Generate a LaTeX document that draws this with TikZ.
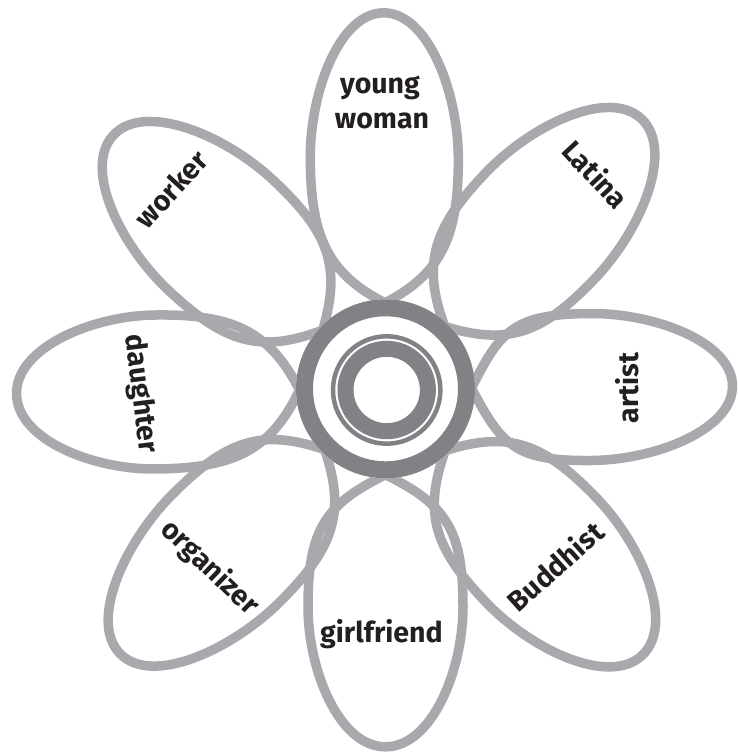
\documentclass[tikz,border=0pt]{standalone}
\usepackage{fontspec}
\setmainfont{Fira Sans}
\definecolor{petalgray}{HTML}{A7A9AC}
\definecolor{ringgray}{HTML}{808285}
\definecolor{ink}{HTML}{231F20}
% #1 angle, #2 tip radius, #3 end radius, #4 half width, #5 widest radius
\newcommand\flowerpetal[5]{%
  \draw[petalline, rotate=#1]
    (#2,0) .. controls ({#2+30},{0.8*#4}) and ({#5-75},{#4}) .. (#5,#4)
           .. controls ({#5+0.45*(#3-#5)},{#4}) and (#3,{0.6*#4}) .. (#3,0)
           .. controls (#3,{-0.6*#4}) and ({#5+0.45*(#3-#5)},{-#4}) .. (#5,-#4)
           .. controls ({#5-75},{-#4}) and ({#2+30},{-0.8*#4}) .. cycle;}
\begin{document}
\begin{tikzpicture}[x=1pt,y=1pt,
  petalline/.style={draw=petalgray, line width=9.5pt, line join=round},
  ringline/.style={draw=ringgray},
  label/.style={text=ink, font=\fontsize{28.5}{32}\selectfont\bfseries, inner sep=0pt}]
\useasboundingbox (0,0) rectangle (738,755);
\begin{scope}[shift={(385.5,366.2)}]
  \flowerpetal{90.3}{86}{376}{74}{231}
  \flowerpetal{46.5}{86}{372}{76}{225}
  \flowerpetal{0.5}{86}{347}{73.5}{205}
  \flowerpetal{-46}{86}{370}{76}{225}
  \flowerpetal{-90}{86}{358}{77.5}{218}
  \flowerpetal{-135}{86}{375}{76}{225}
  \flowerpetal{180.8}{86}{369}{77}{230}
  \flowerpetal{137}{86}{372}{76}{225}
  \fill[white] (0,0) circle (89.5);
  \draw[ringline, line width=17pt] (0,0) circle (81);
\end{scope}
\begin{scope}[shift={(386.7,365)}]
  \draw[ringline, line width=4.5pt] (0,0) circle (53.7);
  \draw[ringline, line width=16pt] (0,0) circle (41.2);
\end{scope}
\node[label, anchor=base] (young) at (380,661.7) {young};
\node[label, anchor=base] (woman) at (382,626.7) {woman};
\node[label, anchor=base] (girlfriend) at (381.5,112.3) {girlfriend};
\node[label, rotate=90] (artist) at (627,367) {artist};
\node[label, rotate=-83] (daughter) at (140,361) {daughter};
\node[label, rotate=47.8] (worker) at (171,566) {worker};
\node[label, rotate=-47] (latina) at (596,581) {Latina};
\node[label, rotate=41.8] (buddhist) at (555,189) {Buddhist};
\node[label, rotate=-44] (organizer) at (210,187) {organizer};
\end{tikzpicture}
\end{document}
